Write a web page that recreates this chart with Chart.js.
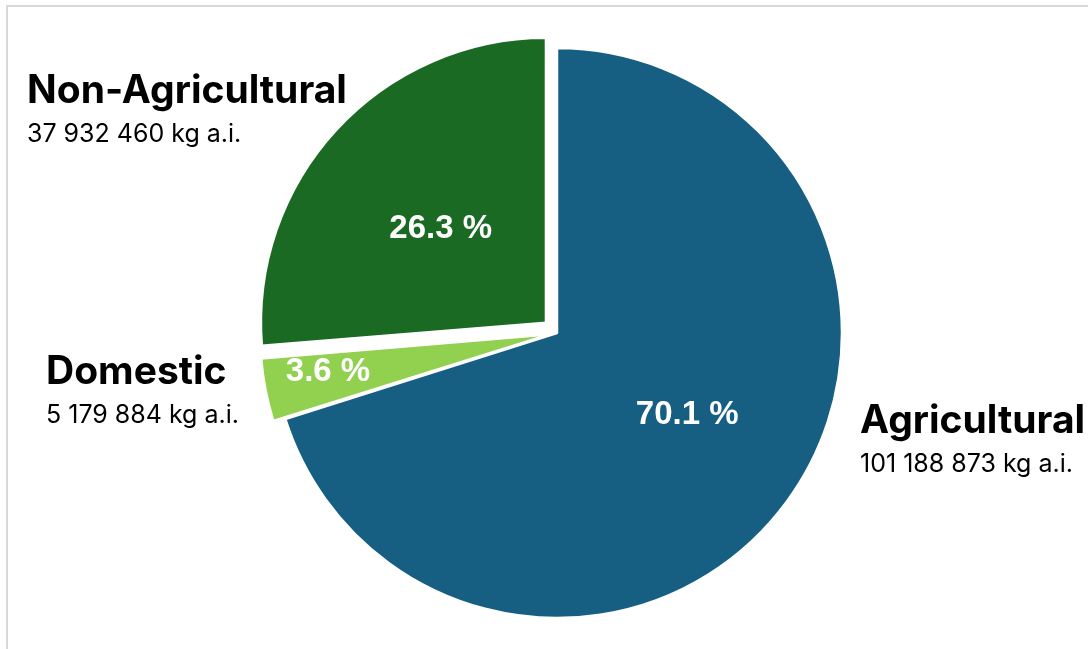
<!DOCTYPE html>
<html>
<head>
<meta charset="utf-8">
<script src="https://cdn.jsdelivr.net/npm/chart.js@4.4.1/dist/chart.umd.min.js"></script>
<style>
  html, body { margin: 0; padding: 0; background: #fff; overflow: hidden; }
  #frame {
    position: absolute; left: 6px; top: 5px;
    width: 1200px; height: 800px;
    border: 2px solid #d9d9d9;
  }
  #myChart { position: absolute; left: 0; top: 0; }
</style>
</head>
<body>
<div id="frame"></div>
<canvas id="myChart" width="1088" height="649"></canvas>
<script>
// pesticide use by sector, kg of active ingredient
var sectors = ['Agricultural', 'Domestic', 'Non-Agricultural'];
var amounts = [101188873, 5179884, 37932460];
var amountText = ['101 188 873 kg a.i.', '5 179 884 kg a.i.', '37 932 460 kg a.i.'];
var sliceColors = ['#165e82', '#92d050', '#1b6a24'];

// chart.js "offset" per slice (pulls the slice out from the centre)
var explode = [0, 27, 60];
// where each % label sits: fraction of radius, and a small turn in degrees
var pctRadius = [0.54, 0.773, 0.495];
var pctTurn = [-4, 1.5, -0.9];

// baseline start of each category name
var namePos = [[860, 433], [46, 384], [27, 103]];

var total = amounts.reduce(function (a, b) { return a + b; }, 0);

// same shift the arc element applies when it draws with an offset
function arcShift(arc) {
  var off = (arc.options.offset || 0) / 4;
  var fix = 1 - Math.sin(Math.min(Math.PI, arc.circumference || 0));
  return off + off * fix;
}

var sliceLabels = {
  id: 'sliceLabels',
  afterDatasetsDraw: function (chart) {
    var ctx = chart.ctx;
    var meta = chart.getDatasetMeta(0);
    ctx.save();
    meta.data.forEach(function (arc, i) {
      var p = arc.getProps(['x', 'y', 'startAngle', 'endAngle', 'outerRadius', 'circumference']);
      var mid = (p.startAngle + p.endAngle) / 2;
      var s = arcShift(arc);
      var cx = p.x + Math.cos(mid) * s;
      var cy = p.y + Math.sin(mid) * s;
      var a = mid + pctTurn[i] * Math.PI / 180;
      var r = p.outerRadius * pctRadius[i];
      var pct = (amounts[i] / total * 100).toFixed(1) + ' %';
      ctx.fillStyle = '#ffffff';
      ctx.font = 'bold 33px "Liberation Sans", Arial, sans-serif';
      ctx.textAlign = 'center';
      ctx.textBaseline = 'middle';
      ctx.fillText(pct, cx + Math.cos(a) * r, cy + Math.sin(a) * r);

      // category name and amount outside the pie
      ctx.fillStyle = '#000000';
      ctx.textAlign = 'left';
      ctx.textBaseline = 'alphabetic';
      ctx.font = 'bold 39px Inter, "Noto Sans", sans-serif';
      ctx.fillText(sectors[i], namePos[i][0], namePos[i][1]);
      ctx.font = '25px Inter, "Noto Sans", sans-serif';
      ctx.fillText(amountText[i], namePos[i][0], namePos[i][1] + 39);
    });
    ctx.restore();
  }
};

var ctx = document.getElementById('myChart').getContext('2d');
var chart = new Chart(ctx, {
  type: 'pie',
  data: {
    labels: sectors,
    datasets: [{
      data: amounts,
      backgroundColor: sliceColors,
      borderColor: '#ffffff',
      borderWidth: 2.5,
      offset: explode,
      radius: 285
    }]
  },
  options: {
    responsive: false,
    animation: false,
    layout: { padding: { left: 26, right: 0, top: 17, bottom: 0 } },
    plugins: {
      legend: { display: false },
      tooltip: { enabled: false }
    }
  },
  plugins: [sliceLabels]
});
</script>
</body>
</html>
